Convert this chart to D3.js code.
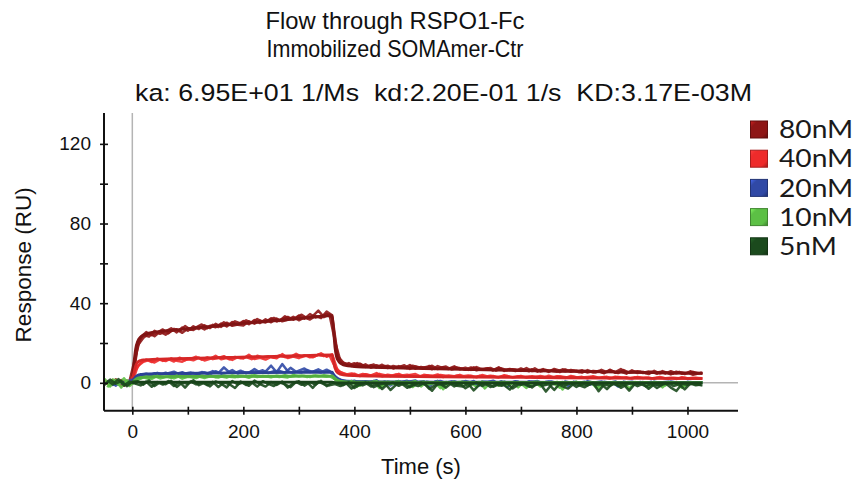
<!DOCTYPE html>
<html>
<head>
<meta charset="utf-8">
<script src="https://cdn.jsdelivr.net/npm/d3@7"></script>
<style>
  body { margin: 0; background: #fff; }
  svg { display: block; }
</style>
</head>
<body>
<svg id="chart"></svg>
<script>
// sample times (s) of the first replicate set
const times = [
  -50, -40, -30, -20, -10, 0,
  10, 20, 30, 40, 50, 60, 70, 80, 90, 100, 110, 120,
  130, 140, 150, 160, 170, 180, 190, 200, 210, 220, 230, 240,
  250, 260, 270, 280, 290, 300, 310, 320, 330, 340, 350, 360,
  370, 380, 390, 400, 410, 420, 430, 440, 450, 460, 470,
  480, 490, 500, 510, 520, 530, 540, 550, 560, 570, 580,
  590, 600, 610, 620, 630, 640, 650, 660, 670, 680, 690,
  700, 710, 720, 730, 740, 750, 760, 770, 780, 790, 800,
  810, 820, 830, 840, 850, 860, 870, 880, 890, 900, 910,
  920, 930, 940, 950, 960, 970, 980, 990, 1000, 1010, 1027
];
// sample times (s) of the second replicate set
const times2 = [
  -45, -35, -25, -15, -5, 5,
  15, 25, 35, 45, 55, 65, 75, 85, 95, 105, 115, 125,
  135, 145, 155, 165, 175, 185, 195, 205, 215, 225, 235, 245,
  255, 265, 275, 285, 295, 305, 315, 325, 335, 345, 355, 365,
  375, 385, 395, 405, 415, 425, 435, 445, 455, 465, 475,
  485, 495, 505, 515, 525, 535, 545, 555, 565, 575, 585,
  595, 605, 615, 625, 635, 645, 655, 665, 675, 685, 695,
  705, 715, 725, 735, 745, 755, 765, 775, 785, 795, 805,
  815, 825, 835, 845, 855, 865, 875, 885, 895, 905, 915,
  925, 935, 945, 955, 965, 975, 985, 995, 1005, 1015, 1025
];

// measured responses (RU), first set
const resp80a = [
  0.5, -1.2, 1.8, -0.6, 1.1, 0.4,
  20.5, 24.0, 23.2, 26.1, 24.6, 25.9, 27.4, 25.3, 27.8, 26.2, 28.4, 27.0,
  28.9, 27.5, 29.6, 28.1, 30.2, 28.6, 29.3, 31.0, 29.4, 31.5, 30.0, 31.9,
  30.4, 32.3, 30.9, 31.6, 33.2, 31.4, 32.9, 31.8, 33.6, 32.5, 35.8, 33.9,
  13.5, 10.2, 8.9, 9.8, 8.1, 9.3, 7.6, 8.8, 7.9, 8.6, 7.2,
  8.4, 7.5, 8.9, 7.1, 8.0, 7.4, 8.6, 6.9, 7.8, 7.1, 8.3,
  6.8, 7.6, 6.5, 7.9, 6.7, 7.3, 6.2, 7.5, 6.4, 7.0, 5.9,
  7.2, 6.1, 6.8, 5.6, 6.9, 5.8, 6.5, 5.4, 6.7, 5.5, 6.2,
  5.1, 6.4, 5.3, 5.9, 4.8, 6.6, 5.0, 5.7, 4.6, 6.3, 4.9,
  5.5, 4.4, 6.0, 4.7, 5.3, 4.2, 5.6, 4.5, 5.1, 4.0, 5.2
];
const resp80b = [
  -0.8, 0.9, -0.3, 1.4, -1.0, 0.2,
  18.8, 22.6, 24.9, 23.4, 25.7, 24.2, 26.0, 26.9, 25.1, 27.3, 26.5, 28.2,
  26.8, 28.7, 27.9, 29.8, 28.3, 30.5, 29.1, 28.8, 30.9, 29.7, 31.2, 30.3,
  32.4, 30.8, 32.0, 33.1, 31.7, 33.8, 32.2, 34.5, 32.8, 33.4, 34.6, 32.6,
  12.0, 9.1, 9.9, 8.3, 9.6, 8.0, 8.9, 7.7, 9.1, 7.4, 8.5,
  7.8, 8.8, 7.0, 8.2, 7.6, 7.9, 6.8, 8.4, 7.3, 7.0, 7.7,
  7.4, 6.6, 7.7, 6.3, 7.1, 6.9, 6.4, 7.8, 6.0, 6.8, 6.6,
  6.0, 7.4, 5.9, 6.3, 6.6, 5.5, 7.0, 6.1, 5.7, 6.4, 5.8,
  6.3, 5.2, 6.0, 5.7, 5.1, 6.2, 5.4, 6.9, 5.2, 5.6, 5.8,
  4.9, 5.7, 5.0, 5.4, 4.6, 5.8, 4.7, 5.2, 4.8, 5.5, 4.6
];
const resp40 = [
  1.2, -0.5, 0.8, -1.3, 0.6, 0.1,
  8.5, 10.6, 11.4, 10.2, 11.8, 10.9, 12.3, 11.1, 10.6, 12.0, 11.3, 12.7,
  11.2, 12.1, 13.6, 11.8, 12.4, 11.5, 12.9, 12.2, 14.1, 12.0, 12.6, 11.7,
  13.0, 12.3, 14.4, 12.5, 13.2, 12.4, 13.9, 12.8, 13.5, 14.8, 13.1, 14.3,
  6.0, 4.8, 3.9, 4.6, 3.4, 4.3, 3.7, 4.9, 3.3, 4.1, 3.6,
  4.5, 3.2, 3.9, 4.4, 3.1, 3.8, 3.5, 4.2, 2.9, 3.7, 3.3,
  4.0, 3.0, 3.6, 2.8, 3.9, 3.2, 3.4, 2.7, 3.8, 3.1, 2.9,
  3.5, 2.6, 3.3, 3.0, 2.5, 3.6, 2.8, 3.2, 2.4, 3.4, 2.7,
  3.0, 2.3, 3.3, 2.6, 2.9, 2.2, 3.1, 2.5, 2.8, 2.1, 3.0,
  2.4, 2.7, 2.0, 2.9, 2.3, 2.6, 1.9, 2.8, 2.2, 2.5, 2.3
];
const resp20 = [
  -0.6, 1.0, -1.4, 0.5, -0.2, 0.3,
  3.0, 4.2, 3.6, 4.8, 4.0, 5.1, 3.9, 4.6, 5.3, 4.1, 4.9, 4.4,
  5.2, 4.3, 5.8, 4.6, 5.0, 6.4, 4.7, 5.5, 4.9, 6.9, 5.1, 5.6,
  8.6, 5.3, 9.4, 5.8, 5.0, 6.1, 7.2, 5.4, 5.9, 5.2, 6.6, 5.0,
  2.0, 1.2, 0.4, 1.1, -0.6, 0.8, 0.2, 1.3, -1.2, 0.6, 0.1,
  0.9, -0.4, 0.7, 1.2, -0.9, 0.5, 0.0, 1.0, -1.6, 0.4, 0.8,
  -0.3, 0.9, 0.2, -1.1, 0.7, 0.3, 1.1, -0.5, 0.6, -0.2, 0.8,
  0.1, -1.4, 0.6, 0.9, -0.3, 0.5, 0.2, -1.0, 0.7, 0.1, 0.4,
  -0.6, 0.8, 0.2, -1.5, 0.5, 0.0, 0.7, -0.8, 0.3, 0.6, -0.2,
  0.4, -1.2, 0.6, 0.1, -0.4, 0.7, 0.2, -1.3, 0.5, 0.0, 0.3
];
const resp10 = [
  2.0, -1.8, 1.5, -2.4, 1.2, -0.5,
  1.5, 2.8, 1.9, 3.4, 2.2, 3.0, 2.5, 3.6, 2.1, 3.3, 2.7, 3.1,
  2.4, 3.5, 2.8, 3.2, 2.6, 3.7, 2.9, 3.4, 2.5, 3.8, 3.0, 3.3,
  2.8, 3.6, 3.1, 2.7, 3.9, 3.2, 3.5, 2.9, 3.7, 3.3, 3.0, 3.6,
  1.2, 0.4, -0.8, 0.6, -1.5, 0.3, -0.4, 0.9, -2.2, 0.5, -0.6,
  0.7, -1.0, 0.2, 0.8, -1.8, 0.4, -0.3, 0.6, -3.2, 0.1, 0.5,
  -0.9, 0.4, -0.2, -2.0, 0.6, -0.5, 0.3, -1.4, 0.5, -0.7, 0.2,
  -0.4, -2.6, 0.3, 0.6, -1.1, 0.2, -0.6, -2.4, 0.4, -0.3, 0.5,
  -1.2, 0.3, -0.5, -2.8, 0.2, -0.8, 0.4, -1.6, 0.1, 0.3, -0.9,
  0.2, -2.1, 0.4, -0.6, -1.3, 0.3, -0.2, -2.5, 0.1, -0.4, 0.2
];
const resp5 = [
  -1.0, 1.6, -0.4, 0.9, -1.7, 0.5,
  0.8, -0.9, 1.2, -1.6, 0.3, -0.7, 1.0, -2.1, 0.2, -0.5, 1.3, -1.2,
  0.1, -1.8, 0.7, -0.4, -2.3, 0.9, -0.8, 0.2, -1.5, 1.1, -0.6, -1.9,
  0.4, -1.1, 0.6, -2.4, -0.2, 0.8, -1.4, 0.3, -0.9, 1.0, -1.7, 0.2,
  -0.3, -1.2, 0.2, -2.6, -0.8, 0.1, -1.9, -0.4, -3.1, -0.6, 0.0,
  -1.5, -0.2, -2.2, -0.7, 0.1, -1.3, -4.0, -0.5, -1.0, 0.0, -1.8,
  -0.4, -2.7, -0.9, 0.1, -1.6, -0.3, -2.0, -0.6, -1.2, -3.4, -0.2,
  -1.0, -0.5, -2.3, -0.1, -1.4, -0.7, -3.6, -0.4, -1.1, -0.2, -2.1,
  -0.6, -1.3, -0.1, -4.2, -0.8, -1.5, -0.3, -2.5, -0.9, -0.2, -1.7,
  -0.5, -3.0, -0.7, -1.2, -0.1, -2.4, -4.1, -0.6, -1.0, -0.3, -1.4
];

// measured responses (RU), second set (on times2)
const resp80c = [
  1.0, -0.4, 0.7, -1.5, 0.9, 12.5,
  22.8, 25.5, 23.9, 25.2, 26.8, 24.9, 27.1, 26.0, 28.5, 26.6, 27.9, 29.3,
  27.4, 29.1, 28.0, 30.4, 29.0, 30.9, 29.8, 31.4, 30.1, 32.0, 30.6, 31.3,
  32.6, 31.1, 33.4, 31.9, 32.7, 34.2, 32.4, 33.5, 36.3, 33.0, 34.4, 21.0,
  10.8, 9.5, 8.4, 9.9, 8.7, 8.2, 9.2, 7.8, 8.5, 8.0, 7.5,
  8.1, 7.3, 8.6, 7.7, 7.2, 8.5, 7.0, 7.6, 8.2, 6.7, 7.4,
  7.1, 6.5, 7.8, 6.6, 6.9, 7.5, 6.1, 7.2, 6.3, 6.8, 6.4,
  6.6, 5.8, 7.3, 5.7, 6.4, 6.0, 5.6, 6.8, 5.9, 6.2, 5.3,
  6.0, 5.5, 5.2, 6.5, 5.4, 5.9, 4.9, 6.4, 5.1, 5.3, 5.7,
  4.8, 5.6, 4.5, 5.9, 4.9, 4.6, 5.5, 4.4, 5.8, 4.7, 5.0
];
const resp40b = [
  -0.9, 1.4, -0.2, 0.7, -1.1, 6.0,
  10.1, 11.6, 10.4, 12.2, 11.0, 11.9, 10.7, 12.6, 11.4, 12.0, 13.1, 11.6,
  12.8, 11.9, 12.5, 13.4, 11.8, 13.0, 12.3, 12.9, 11.9, 13.6, 12.7, 13.3,
  12.6, 13.8, 12.9, 13.1, 14.6, 13.0, 13.7, 12.8, 14.2, 13.4, 13.9, 8.0,
  5.2, 4.2, 4.7, 3.6, 4.4, 3.9, 3.5, 4.5, 3.8, 3.4, 4.2,
  3.7, 4.1, 3.4, 3.0, 4.0, 3.6, 3.3, 3.9, 3.5, 3.0, 3.6,
  3.3, 3.7, 2.9, 3.5, 3.1, 3.6, 2.9, 3.2, 3.4, 2.8, 3.3,
  3.0, 3.2, 2.7, 3.4, 2.9, 2.6, 3.3, 3.0, 2.7, 3.1, 2.6,
  2.8, 3.1, 2.5, 2.7, 3.0, 2.4, 2.9, 2.6, 2.3, 2.8, 2.5,
  2.6, 2.2, 2.7, 2.4, 2.0, 2.6, 2.3, 2.5, 2.1, 2.4, 2.2
];
const resp20b = [
  0.8, -1.1, 0.4, -0.7, 1.2, 2.0,
  3.8, 4.6, 3.7, 5.0, 4.3, 4.8, 5.6, 4.2, 4.7, 5.2, 4.5, 5.4,
  4.6, 5.9, 4.9, 7.8, 5.2, 5.0, 6.1, 4.8, 5.7, 5.3, 6.3, 4.9,
  5.8, 6.0, 5.1, 7.5, 5.6, 5.2, 6.4, 5.5, 6.8, 5.3, 5.9, 3.2,
  1.5, 0.3, 0.9, -0.8, 0.6, 0.2, 1.0, -0.3, 0.7, -1.3, 0.5,
  0.4, 1.0, -0.6, 0.3, 0.8, -1.8, 0.5, 0.9, -0.2, 0.6, -0.9,
  0.7, 0.0, 0.9, -1.3, 0.4, 0.6, -0.4, 0.8, -2.0, 0.3, 0.5,
  -0.5, 0.8, 0.2, -1.1, 0.5, 0.7, -0.2, 0.4, -1.7, 0.6, 0.1,
  0.5, -0.9, 0.3, 0.7, -0.4, 0.2, -1.9, 0.6, 0.1, -0.6, 0.4,
  -0.2, 0.5, -1.0, 0.3, 0.6, -0.7, 0.2, -1.5, 0.4, 0.1, -0.3
];
const resp10b = [
  -2.2, 1.7, -1.0, 2.3, -1.6, 1.0,
  2.3, 3.1, 2.0, 3.5, 2.6, 3.2, 2.3, 3.4, 2.8, 3.0, 2.4, 3.6,
  2.9, 3.3, 2.7, 3.6, 3.1, 2.8, 3.5, 3.0, 3.7, 2.9, 3.4, 3.1,
  3.3, 2.9, 3.8, 3.0, 3.4, 3.6, 2.9, 3.5, 3.2, 3.8, 3.3, 1.8,
  0.6, -0.5, 0.9, -1.9, 0.3, -0.2, 0.7, -2.6, 0.4, -0.8, 0.6,
  -0.3, 0.5, -2.1, 0.3, 0.6, -0.9, 0.2, -2.7, 0.4, -0.5, 0.3,
  0.5, -1.6, 0.1, 0.4, -2.8, 0.2, -0.6, 0.5, -1.2, 0.3, -2.3,
  0.2, -0.7, 0.4, -1.9, 0.1, -0.4, 0.5, -3.3, 0.2, -0.6, 0.3,
  -0.5, 0.4, -2.2, 0.1, -0.8, 0.3, -1.4, 0.2, -2.9, 0.4, -0.2,
  0.3, -1.1, 0.1, -2.3, 0.4, -0.5, 0.2, -1.7, 0.3, -0.9, 0.1
];
const resp5b = [
  1.2, -0.8, 1.9, -1.3, 0.6, -0.4,
  -1.3, 0.6, -2.0, 0.4, -0.9, 0.9, -1.6, 0.5, -2.4, 0.7, -0.8, 0.3,
  -1.2, 0.5, -2.1, 0.2, -0.7, -2.6, 0.6, -1.1, 0.3, -1.9, 0.8, -0.5,
  -1.6, 0.3, -0.8, -2.2, 0.5, -1.0, 0.2, -2.5, 0.6, -0.7, -1.3, -0.6,
  -1.6, -0.2, -2.9, -0.6, -1.3, 0.0, -2.2, -0.9, -0.3, -3.6, -1.0,
  -0.4, -2.5, -0.9, -1.6, -0.2, -3.1, -1.2, -0.6, -2.4, -0.1, -1.5,
  -1.9, -0.5, -3.8, -1.0, -0.3, -2.1, -0.8, -1.5, -0.2, -2.8, -0.9,
  -0.3, -2.0, -1.1, -0.6, -4.4, -0.9, -0.2, -1.8, -2.9, -0.5, -1.2,
  -2.2, -0.4, -1.0, -0.7, -3.2, -0.3, -1.4, -0.8, -3.9, -0.6, -0.4,
  -1.8, -0.5, -2.6, -0.9, -0.2, -1.6, -0.7, -3.3, -0.4, -1.2, -0.8
];

// fitted curves (RU)
const fitTimes = [0, 3, 6, 10, 15, 20, 30, 50, 80, 120, 180, 240, 300, 360,
                  362, 365, 370, 380, 400, 450, 550, 700, 850, 1027];
const fit80 = [0, 10, 17, 21, 23, 24, 25, 25.8, 26.6, 27.7, 29.3, 30.8, 32.3, 33.7,
               28, 18, 11.5, 9.0, 8.2, 7.7, 7.0, 6.2, 5.5, 4.7];
const fit40 = [0, 5, 8.5, 10.5, 11.2, 11.5, 11.7, 11.9, 12.1, 12.4, 12.8, 13.2, 13.6, 14.0,
               11.5, 7.5, 5.0, 4.0, 3.6, 3.3, 3.0, 2.7, 2.4, 2.1];
const fit20 = [0, 1.8, 3.0, 3.8, 4.2, 4.4, 4.5, 4.6, 4.7, 4.8, 5.0, 5.1, 5.2, 5.3,
               4.3, 2.8, 1.7, 1.0, 0.7, 0.5, 0.4, 0.3, 0.2, 0.2];
const fit10 = [0, 1.0, 1.8, 2.4, 2.7, 2.9, 3.0, 3.1, 3.2, 3.2, 3.3, 3.3, 3.4, 3.4,
               2.8, 1.8, 1.0, 0.6, 0.4, 0.3, 0.2, 0.2, 0.1, 0.1];
const fit5 = [0, 0.1, 0.2, 0.3, 0.3, 0.3, 0.3, 0.3, 0.3, 0.3, 0.3, 0.3, 0.3, 0.3,
              0.2, 0.1, 0, 0, 0, 0, 0, 0, 0, 0];

const seriesNames = ["80nM", "40nM", "20nM", "10nM", "5nM"];
const seriesColors = ["#8e1616", "#ee2b2b", "#3049a6", "#5cc045", "#1b4a1d"];
const seriesTraces = [
    [[times, resp80a], [times, resp80b], [times2, resp80c]],
    [[times, resp40], [times2, resp40b]],
    [[times, resp20], [times2, resp20b]],
    [[times, resp10], [times2, resp10b]],
    [[times, resp5], [times2, resp5b]]
];
const seriesFits = [fit80, fit40, fit20, fit10, fit5];

const yTicks = [0, 20, 40, 60, 80, 100, 120];
const yLabels = [0, 40, 80, 120];
const xTicks = [0, 100, 200, 300, 400, 500, 600, 700, 800, 900, 1000];
const xLabels = [0, 200, 400, 600, 800, 1000];

const titleLines = ["Flow through RSPO1-Fc", "Immobilized SOMAmer-Ctr"];
const kineticsText = "ka: 6.95E+01 1/Ms  kd:2.20E-01 1/s  KD:3.17E-03M";

const width = 858;
const height = 486;
const plot = { left: 104, right: 738, top: 113, bottom: 410.7 };
const textFont = "'Liberation Sans', Arial, sans-serif";

const svg = d3.select("#chart")
    .attr("width", width)
    .attr("height", height);

const x = d3.scaleLinear().domain([-51, 1091]).range([plot.left, plot.right]);
const y = d3.scaleLinear().domain([-14, 135.5]).range([plot.bottom, plot.top]);

// Titles (the original face is a little narrower than Arial, so fit widths)
svg.selectAll(".title")
    .data(titleLines)
    .enter()
    .append("text")
    .attr("class", "title")
    .attr("x", 395)
    .attr("y", (d, i) => 29 + i * 28)
    .attr("text-anchor", "middle")
    .attr("textLength", (d, i) => i === 0 ? 259 : 257)
    .attr("lengthAdjust", "spacingAndGlyphs")
    .style("font-family", textFont)
    .style("font-size", "24.5px")
    .style("fill", "#111")
    .text(d => d);

svg.append("text")
    .attr("x", 443.5)
    .attr("y", 101)
    .attr("text-anchor", "middle")
    .attr("textLength", 617)
    .attr("lengthAdjust", "spacingAndGlyphs")
    .attr("xml:space", "preserve")
    .style("white-space", "pre")
    .style("font-family", textFont)
    .style("font-size", "24.5px")
    .style("fill", "#111")
    .text(kineticsText);

// Clip for the traces
const defs = svg.append("defs");
defs.append("clipPath")
    .attr("id", "plot-clip")
    .append("rect")
    .attr("x", plot.left + 1)
    .attr("y", plot.top)
    .attr("width", plot.right - plot.left)
    .attr("height", plot.bottom - plot.top - 1);

// Reference lines at t = 0 and RU = 0
svg.append("line")
    .attr("x1", x(0)).attr("x2", x(0))
    .attr("y1", plot.top).attr("y2", plot.bottom)
    .attr("stroke", "#b4b4b4")
    .attr("stroke-width", 1.5);

svg.append("line")
    .attr("x1", plot.left).attr("x2", plot.right)
    .attr("y1", y(0)).attr("y2", y(0))
    .attr("stroke", "#b4b4b4")
    .attr("stroke-width", 1.5);

// Traces
const fitLine = d3.line()
    .x((d, i) => x(fitTimes[i]))
    .y(d => y(d))
    .curve(d3.curveMonotoneX);

const traceGroup = svg.append("g").attr("clip-path", "url(#plot-clip)");

seriesNames.forEach((name, s) => {
    seriesTraces[s].forEach(([t, values]) => {
        const line = d3.line()
            .x((d, i) => x(t[i]))
            .y(d => y(d));
        traceGroup.append("path")
            .attr("d", line(values))
            .attr("fill", "none")
            .attr("stroke", seriesColors[s])
            .attr("stroke-width", 2.5)
            .attr("stroke-linejoin", "round")
            .attr("opacity", 0.9);
    });
    traceGroup.append("path")
        .attr("d", fitLine(seriesFits[s]))
        .attr("fill", "none")
        .attr("stroke", d3.color(seriesColors[s]).darker(0.3))
        .attr("stroke-width", 2.8)
        .attr("stroke-linejoin", "round");
});

// Axes
const yAxis = svg.append("g")
    .attr("transform", `translate(${plot.left},0)`)
    .call(d3.axisLeft(y).tickValues(yTicks).tickSize(4)
        .tickFormat(d => yLabels.includes(d) ? d : ""));
yAxis.select(".domain").attr("stroke", "#111").attr("stroke-width", 2)
    .attr("d", `M0,${plot.top}V${plot.bottom}`);
yAxis.selectAll(".tick line").attr("x1", 4).attr("stroke", "#111").attr("stroke-width", 1.6);
yAxis.selectAll(".tick text")
    .attr("x", -13)
    .style("font-family", textFont)
    .style("font-size", "19px")
    .style("fill", "#111");

const xAxis = svg.append("g")
    .attr("transform", `translate(0,${plot.bottom})`)
    .call(d3.axisBottom(x).tickValues(xTicks).tickSize(4)
        .tickFormat(d => xLabels.includes(d) ? d : ""));
xAxis.select(".domain").attr("stroke", "#111").attr("stroke-width", 2)
    .attr("d", `M${plot.left},0H${plot.right}`);
xAxis.selectAll(".tick line").attr("y1", -4).attr("stroke", "#111").attr("stroke-width", 1.6);
xAxis.selectAll(".tick text")
    .attr("y", 14)
    .style("font-family", textFont)
    .style("font-size", "19px")
    .style("fill", "#111");

// Axis titles
svg.append("text")
    .attr("x", (plot.left + plot.right) / 2)
    .attr("y", 474)
    .attr("text-anchor", "middle")
    .style("font-family", textFont)
    .style("font-size", "22px")
    .style("fill", "#111")
    .text("Time (s)");

svg.append("text")
    .attr("transform", `translate(31,${(plot.top + plot.bottom) / 2 + 3}) rotate(-90)`)
    .attr("text-anchor", "middle")
    .style("font-family", textFont)
    .style("font-size", "22.5px")
    .style("fill", "#111")
    .text("Response (RU)");

// Legend with bevelled swatches
seriesColors.forEach((c, i) => {
    const g = defs.append("linearGradient")
        .attr("id", "swatch-" + i)
        .attr("x1", "0%").attr("y1", "0%")
        .attr("x2", "100%").attr("y2", "100%");
    g.append("stop").attr("offset", "0%").attr("stop-color", d3.color(c).brighter(1.1));
    g.append("stop").attr("offset", "22%").attr("stop-color", c);
    g.append("stop").attr("offset", "78%").attr("stop-color", c);
    g.append("stop").attr("offset", "100%").attr("stop-color", d3.color(c).darker(1.2));
});

const legend = svg.selectAll(".legend-item")
    .data(seriesNames)
    .enter()
    .append("g")
    .attr("class", "legend-item")
    .attr("transform", (d, i) => `translate(750,${129.5 + i * 29.2})`);

legend.append("rect")
    .attr("x", 0.5)
    .attr("y", -8.5)
    .attr("width", 17)
    .attr("height", 17)
    .attr("fill", (d, i) => `url(#swatch-${i})`)
    .attr("stroke", (d, i) => d3.color(seriesColors[i]).darker(1.0))
    .attr("stroke-width", 1);

legend.append("g")
    .attr("transform", "translate(29,0) scale(1.16,1)")
    .append("text")
    .attr("dy", "0.36em")
    .style("font-family", "Lato, 'Open Sans', sans-serif")
    .style("font-size", "24.3px")
    .style("fill", "#1a1a1a")
    .text(d => d);
</script>
</body>
</html>
